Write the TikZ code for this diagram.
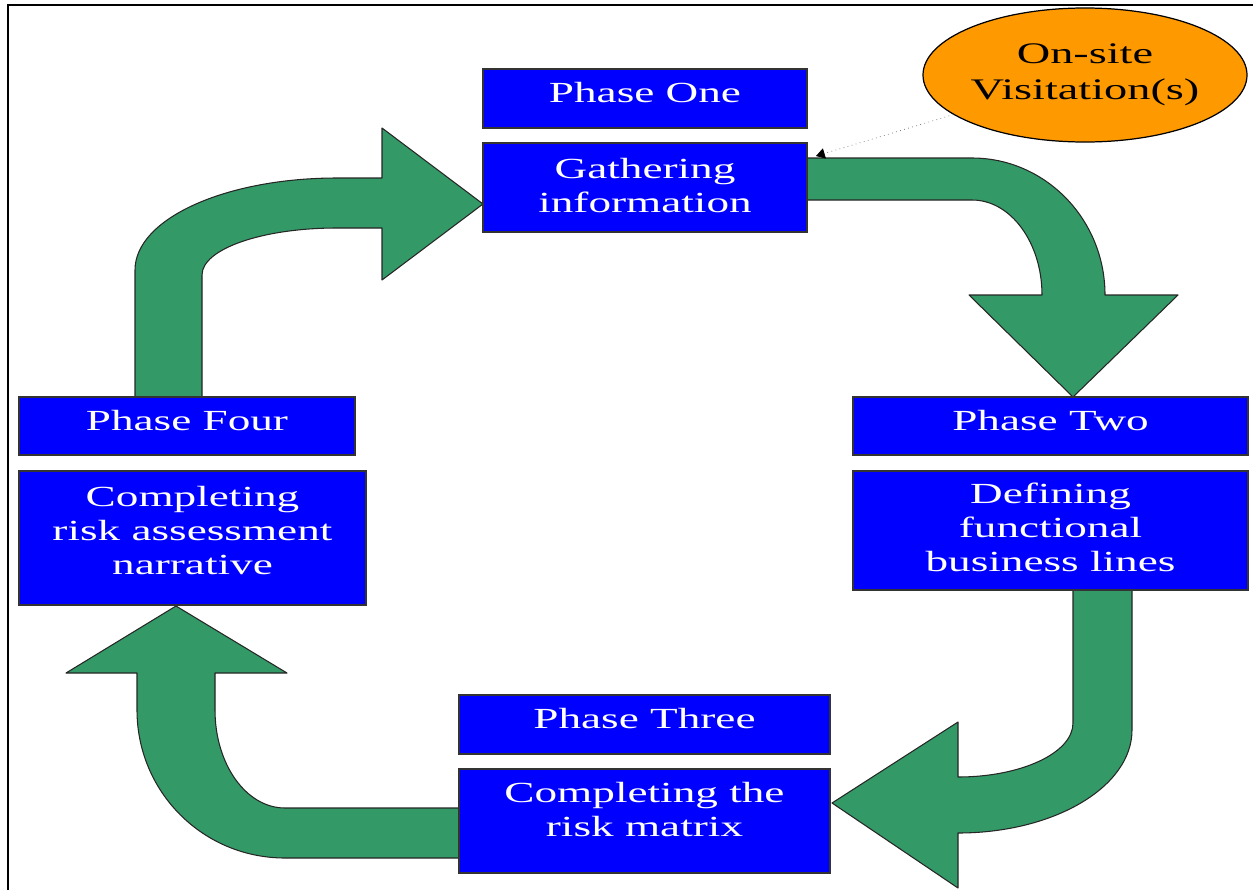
\documentclass[tikz,border=0pt]{standalone}
\usepackage{fontspec}
\newfontfamily\boxfont[FakeStretch=1.55]{Liberation Serif}
\usetikzlibrary{arrows.meta,shapes.geometric}

\definecolor{phaseblue}{RGB}{0,0,255}
\definecolor{cyclegreen}{RGB}{51,153,102}
\definecolor{visitorange}{RGB}{255,153,0}

\begin{document}
\begin{tikzpicture}[x=0.2mm,y=-0.2mm,
    % the argument lifts the text towards the top of the box
    phase/.style={rectangle,draw=black!80,line width=0.7pt,fill=phaseblue,text=white,
      align=center,inner sep=0pt,font=\boxfont\fontsize{16.6}{19.3}\selectfont,
      execute at end node={\rule[-#1]{0pt}{#1}}},
    phase/.default=2.4mm,
    flow/.style={draw=black!85,line width=0.6pt,fill=cyclegreen,line join=round}]
  \useasboundingbox (0,0) rectangle (1253,890);
  % frame
  \draw[line width=1.7pt] (8,890) -- (8,5) -- (1253,5);

  % the four bent arrows of the cycle
  \draw[flow] (807,158) -- (972,158) .. controls (1045,158) and (1105,219) .. (1105,295)
    -- (1178,295) -- (1073,397) -- (969,295) -- (1042,295)
    .. controls (1042,243) and (1011,200) .. (972,200) -- (807,200) -- cycle;
  \draw[flow] (1073,590) -- (1073,723) .. controls (1073,753) and (1021,777) .. (958,777)
    -- (958,722) -- (832,803) -- (958,888) -- (958,833)
    .. controls (1054,833) and (1132,787) .. (1132,730) -- (1132,590) -- cycle;
  \draw[flow] (459,808) -- (285,808) .. controls (246,808) and (215,764) .. (215,710)
    -- (215,673) -- (287,673) -- (176,606) -- (66,673) -- (137,673) -- (137,710)
    .. controls (137,792) and (203,858) .. (285,858) -- (459,858) -- cycle;
  \draw[flow] (135,397) -- (135,270) .. controls (135,219) and (225,178) .. (337,178)
    -- (382,178) -- (382,128) -- (483,204) -- (382,280) -- (382,228) -- (337,228)
    .. controls (262,228) and (202,249) .. (202,275) -- (202,397) -- cycle;

  % phases
  \node[phase,minimum width=6.48cm,minimum height=1.18cm] at (645,98.5) (one) {Phase One};
  \node[phase=1mm,minimum width=6.48cm,minimum height=1.78cm] at (645,187.5) (gather) {Gathering\\information};
  \node[phase,minimum width=7.9cm,minimum height=1.16cm] at (1050.5,426) (two) {Phase Two};
  \node[phase=1.4mm,minimum width=7.9cm,minimum height=2.38cm] at (1050.5,530.5) (define) {Defining\\functional\\business lines};
  \node[phase,minimum width=7.42cm,minimum height=1.18cm] at (644.5,724.5) (three) {Phase Three};
  \node[phase=4.8mm,minimum width=7.42cm,minimum height=2.08cm] at (644.5,821) (matrix) {Completing the\\risk matrix};
  \node[phase,minimum width=6.72cm,minimum height=1.16cm] at (187,426) (four) {Phase Four};
  \node[phase=3.2mm,minimum width=6.94cm,minimum height=2.68cm] at (192.5,538) (narrative) {Completing\\risk assessment\\narrative};

  % site visits
  \node[ellipse,draw=black,line width=0.7pt,fill=visitorange,minimum width=6.48cm,minimum height=2.68cm,
    inner sep=0pt,align=center,font=\boxfont\fontsize{17}{20.5}\selectfont] at (1085,75) (visit) {On-site\\Visitation(s)};
  \coordinate (tip) at (816,156);
  \draw[dotted,black!60,-{Triangle[length=5pt,width=6pt,color=black]}] (visit) -- (tip);
\end{tikzpicture}
\end{document}
